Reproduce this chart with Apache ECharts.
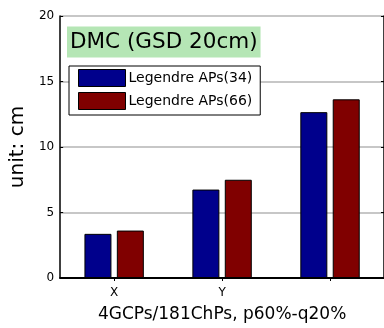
<!DOCTYPE html>
<html>
<head>
<meta charset="utf-8">
<script src="https://cdn.jsdelivr.net/npm/echarts@6/dist/echarts.min.js"></script>
<style>
  html, body { margin: 0; padding: 0; background: #fff; }
  #chart { width: 384px; height: 328px; }
</style>
</head>
<body>
<div id="chart"></div>
<script>
// Accuracy per component (cm)
const categories = ['X', 'Y', ''];
const seriesNames = ['Legendre APs(34)', 'Legendre APs(66)'];
const aps34 = [3.37, 6.75, 12.66];
const aps66 = [3.62, 7.5, 13.64];
const yTicks = [0, 5, 10, 15, 20];

const FONT = 'DejaVu Sans, sans-serif';
const chart = echarts.init(document.getElementById('chart'));

chart.setOption({
  animation: false,
  textStyle: { fontFamily: FONT },
  title: {
    text: 'DMC (GSD 20cm)',
    left: 67,
    top: 27,
    backgroundColor: '#b5e6b5',
    padding: [5, 3, 4, 3],
    textStyle: { fontFamily: FONT, fontSize: 21.5, fontWeight: 'normal', color: '#000', lineHeight: 21 }
  },
  legend: {
    orient: 'vertical',
    left: 69,
    top: 66,
    padding: [3, 8, 5, 9],
    itemGap: 5,
    itemWidth: 47,
    itemHeight: 17,
    icon: 'rect',
    backgroundColor: '#fff',
    borderColor: '#000',
    borderWidth: 1,
    itemStyle: { borderColor: '#000', borderWidth: 1 },
    textStyle: { fontFamily: FONT, fontSize: 14, color: '#000', padding: [0, 0, 0, -2] },
    data: seriesNames
  },
  grid: { left: 59, top: 16, width: 327, height: 266, containLabel: false },
  xAxis: [
    {
      type: 'category',
      data: categories,
      boundaryGap: true,
      position: 'bottom',
      axisLine: { lineStyle: { color: '#000', width: 2 } },
      axisTick: { show: false },
      axisLabel: { fontFamily: FONT, fontSize: 12, color: '#000', margin: 9 },
      name: '4GCPs/181ChPs, p60%-q20%',
      nameLocation: 'middle',
      nameGap: 28,
      nameTextStyle: { fontFamily: FONT, fontSize: 17, color: '#000' }
    },
    {
      type: 'category',
      data: categories,
      position: 'top',
      axisLine: { lineStyle: { color: '#000', width: 1.5 } },
      axisTick: { show: true, inside: true, alignWithLabel: true, length: 3, lineStyle: { color: '#000' } },
      axisLabel: { show: false }
    }
  ],
  yAxis: [
    {
      type: 'value',
      min: 0,
      max: 20,
      interval: 5,
      position: 'left',
      axisLine: { show: true, lineStyle: { color: '#000', width: 1.5 } },
      axisTick: { show: true, inside: true, length: 3, lineStyle: { color: '#000' } },
      axisLabel: {
        fontFamily: FONT, fontSize: 12, color: '#000', margin: 6,
        formatter: v => (yTicks.includes(v) ? String(v) : '')
      },
      splitLine: { show: true, lineStyle: { color: '#b4b4b4', width: 1.5 } },
      name: 'unit: cm',
      nameLocation: 'middle',
      nameGap: 28,
      nameTextStyle: { fontFamily: FONT, fontSize: 20, color: '#000' }
    },
    {
      type: 'value',
      min: 0,
      max: 20,
      interval: 5,
      position: 'right',
      axisLine: { show: true, lineStyle: { color: '#000', width: 1.5 } },
      axisTick: { show: true, inside: true, length: 3, lineStyle: { color: '#000' } },
      axisLabel: { show: false },
      splitLine: { show: false }
    }
  ],
  series: [
    {
      name: seriesNames[0],
      type: 'bar',
      data: aps34,
      barWidth: 27,
      barGap: '20%',
      itemStyle: { color: '#00008c', borderColor: '#000', borderWidth: 1 }
    },
    {
      name: seriesNames[1],
      type: 'bar',
      data: aps66,
      barWidth: 27,
      barGap: '20%',
      itemStyle: { color: '#800000', borderColor: '#000', borderWidth: 1 }
    }
  ]
});
</script>
</body>
</html>
